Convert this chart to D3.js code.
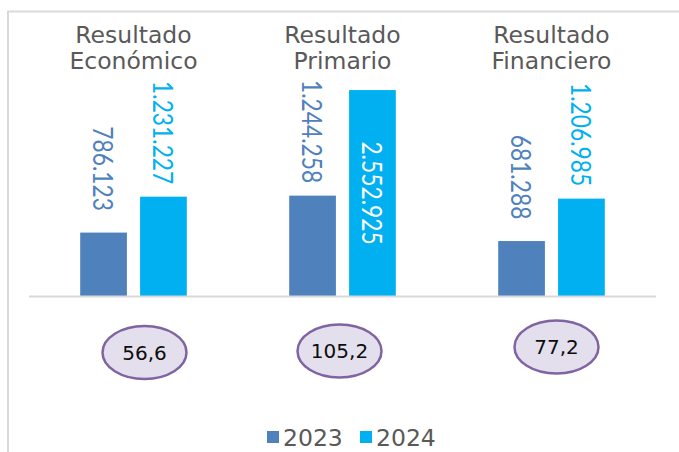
<!DOCTYPE html>
<html>
<head>
<meta charset="utf-8">
<script src="https://cdn.jsdelivr.net/npm/d3@7"></script>
<style>
  html, body { margin: 0; padding: 0; background: #fff; }
  svg { display: block; }
</style>
</head>
<body>
<svg id="chart" width="679" height="452"></svg>
<script>
// ---- data ----
const categories = ["Resultado Económico", "Resultado Primario", "Resultado Financiero"];
const titleLines = [["Resultado", "Económico"], ["Resultado", "Primario"], ["Resultado", "Financiero"]];
const series = ["2023", "2024"];
const values2023 = [786123, 1244258, 681288];
const values2024 = [1231227, 2552925, 1206985];
const labels2023 = ["786.123", "1.244.258", "681.288"];
const labels2024 = ["1.231.227", "2.552.925", "1.206.985"];
const variation = ["56,6", "105,2", "77,2"];

// ---- styles / layout ----
const colors = { "2023": "#4f81bd", "2024": "#00b0f0" };
const textGray = "#595959";
const gridGray = "#d9d9d9";
const ellipseDx = [11, -3, 5];
const ellipseY = [352.5, 351, 347];

const svg = d3.select("#chart");

// outer border
svg.append("rect")
  .attr("x", 8).attr("y", 11.5)
  .attr("width", 720).attr("height", 520)
  .attr("fill", "none").attr("stroke", gridGray).attr("stroke-width", 2);

const x0 = d3.scaleBand().domain(categories).range([29, 656]).paddingInner(0).paddingOuter(0);
const x1 = d3.scaleBand().domain(series).range([-53.3, 53.3]).paddingInner(0.22).paddingOuter(0);
const y = d3.scaleLinear().domain([0, 3000000]).range([296, 54]);

const rows = categories.map((c, i) => ({
  cat: c, i,
  vals: [
    { s: "2023", v: values2023[i], lab: labels2023[i] },
    { s: "2024", v: values2024[i], lab: labels2024[i] }
  ]
}));

// titles
rows.forEach(r => {
  const cx = x0(r.cat) + x0.bandwidth() / 2;
  const t = svg.append("text")
    .attr("x", cx).attr("y", 43)
    .attr("text-anchor", "middle")
    .attr("font-family", "DejaVu Sans")
    .attr("font-size", 23.5)
    .attr("fill", textGray);
  titleLines[r.i].forEach((ln, k) => {
    t.append("tspan").attr("x", cx).attr("dy", k === 0 ? 0 : 26).text(ln);
  });
});

// bars
const g = svg.selectAll("g.cat").data(rows).join("g")
  .attr("class", "cat")
  .attr("transform", d => `translate(${x0(d.cat) + x0.bandwidth() / 2},0)`);

g.selectAll("rect").data(d => d.vals).join("rect")
  .attr("x", d => x1(d.s))
  .attr("width", x1.bandwidth())
  .attr("y", d => y(d.v))
  .attr("height", d => y(0) - y(d.v))
  .attr("fill", d => colors[d.s]);

// baseline
svg.append("line")
  .attr("x1", 29).attr("x2", 656)
  .attr("y1", y(0) + 0.5).attr("y2", y(0) + 0.5)
  .attr("stroke", gridGray).attr("stroke-width", 2);

// value labels (rotated)
g.selectAll("text.val").data(d => d.vals).join("text")
  .attr("class", "val")
  .each(function(d) {
    const top = y(d.v);
    const inside = top - 128 < 0;
    const cy = inside ? (top + y(0)) / 2 : top - 64;
    const cx = x1(d.s) + x1.bandwidth() / 2;
    d3.select(this)
      .attr("transform", `translate(${cx},${cy}) rotate(90) scale(0.86,1)`)
      .attr("fill", inside ? "#ffffff" : colors[d.s]);
  })
  .attr("text-anchor", "middle")
  .attr("dominant-baseline", "central")
  .attr("font-family", "Lato")
  .attr("font-size", 26.5)
  .text(d => d.lab);

// ellipses with variation
rows.forEach(r => {
  const cx = x0(r.cat) + x0.bandwidth() / 2 + ellipseDx[r.i];
  const cy = ellipseY[r.i];
  svg.append("ellipse")
    .attr("cx", cx).attr("cy", cy)
    .attr("rx", 42).attr("ry", 26.5)
    .attr("fill", "#e4dfec")
    .attr("stroke", "#8064a2")
    .attr("stroke-width", 2.5);
  svg.append("text")
    .attr("x", cx).attr("y", cy + 7)
    .attr("text-anchor", "middle")
    .attr("font-family", "DejaVu Sans")
    .attr("font-size", 20)
    .attr("fill", "#0d0d0d")
    .text(variation[r.i]);
});

// legend
const legendX = [267, 360];
series.forEach((s, k) => {
  svg.append("rect")
    .attr("x", legendX[k]).attr("y", 431)
    .attr("width", 12).attr("height", 12)
    .attr("fill", colors[s]);
  svg.append("text")
    .attr("x", legendX[k] + 16).attr("y", 446)
    .attr("font-family", "DejaVu Sans")
    .attr("font-size", 23.5)
    .attr("fill", textGray)
    .text(s);
});
</script>
</body>
</html>
